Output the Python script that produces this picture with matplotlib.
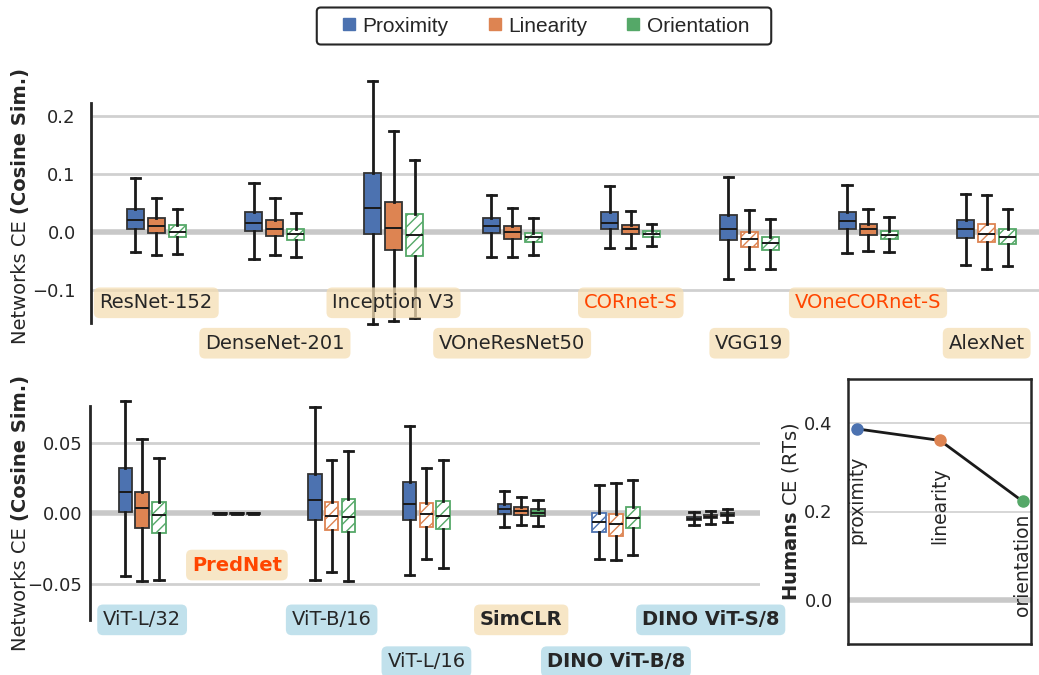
import matplotlib
matplotlib.use("Agg")
import matplotlib.pyplot as plt
from matplotlib.lines import Line2D
from matplotlib.patches import FancyBboxPatch
from matplotlib.transforms import IdentityTransform

# ---- data -------------------------------------------------------------
features = ["Proximity", "Linearity", "Orientation"]
feature_names = ["proximity", "linearity", "orientation"]
palette = ["#4C72B0", "#DD8452", "#55A868"]

top_nets = ["ResNet-152", "DenseNet-201", "Inception V3", "VOneResNet50",
            "CORnet-S", "VGG19", "VOneCORnet-S", "AlexNet"]
# (whislo, q1, median, q3, whishi) for proximity, linearity, orientation
top_stats = [
    [(-0.035, 0.005, 0.020, 0.040, 0.093), (-0.041, -0.003, 0.010, 0.023, 0.059), (-0.038, -0.009, 0.000, 0.011, 0.039)],
    [(-0.048, 0.002, 0.016, 0.035, 0.085), (-0.041, -0.007, 0.005, 0.020, 0.059), (-0.043, -0.014, -0.004, 0.005, 0.032)],
    [(-0.160, -0.004, 0.042, 0.102, 0.261), (-0.155, -0.032, 0.007, 0.052, 0.175), (-0.150, -0.042, -0.005, 0.031, 0.125)],
    [(-0.043, -0.003, 0.010, 0.024, 0.063), (-0.043, -0.012, -0.001, 0.010, 0.042), (-0.040, -0.017, -0.009, -0.002, 0.023)],
    [(-0.028, 0.004, 0.016, 0.034, 0.079), (-0.028, -0.004, 0.004, 0.012, 0.036), (-0.025, -0.009, -0.004, 0.001, 0.013)],
    [(-0.081, -0.015, 0.005, 0.029, 0.095), (-0.065, -0.027, -0.013, 0.000, 0.038), (-0.065, -0.031, -0.019, -0.009, 0.022)],
    [(-0.036, 0.004, 0.018, 0.035, 0.081), (-0.033, -0.005, 0.004, 0.013, 0.040), (-0.035, -0.013, -0.005, 0.002, 0.026)],
    [(-0.057, -0.010, 0.005, 0.021, 0.065), (-0.065, -0.018, -0.004, 0.014, 0.064), (-0.059, -0.021, -0.009, 0.004, 0.039)],
]
# 1 = significant (filled box), 0 = not significant (hatched box)
top_signif = [[1, 1, 0], [1, 1, 0], [1, 1, 0], [1, 1, 0],
              [1, 1, 0], [1, 0, 0], [1, 1, 0], [1, 0, 0]]

bottom_nets = ["ViT-L/32", "PredNet", "ViT-B/16", "ViT-L/16",
               "SimCLR", "DINO ViT-B/8", "DINO ViT-S/8"]
bottom_stats = [
    [(-0.0443, 0.0007, 0.0149, 0.0323, 0.0797), (-0.0476, -0.0101, 0.0035, 0.0151, 0.0528), (-0.0472, -0.0139, -0.0012, 0.0083, 0.0394)],
    [(-0.0006, -0.0003, 0.0000, 0.0003, 0.0006), (-0.0005, -0.0002, 0.0000, 0.0002, 0.0005), (-0.0005, -0.0002, 0.0000, 0.0002, 0.0005)],
    [(-0.0472, -0.0045, 0.0092, 0.0276, 0.0752), (-0.0415, -0.0120, -0.0017, 0.0083, 0.0375), (-0.0476, -0.0134, -0.0024, 0.0099, 0.0443)],
    [(-0.0434, -0.0045, 0.0064, 0.0224, 0.0620), (-0.0325, -0.0094, -0.0005, 0.0071, 0.0318), (-0.0389, -0.0111, -0.0017, 0.0087, 0.0380)],
    [(-0.0099, -0.0002, 0.0031, 0.0064, 0.0158), (-0.0083, -0.0009, 0.0017, 0.0042, 0.0113), (-0.0087, -0.0021, 0.0005, 0.0028, 0.0092)],
    [(-0.0321, -0.0134, -0.0064, 0.0002, 0.0200), (-0.0330, -0.0158, -0.0078, -0.0002, 0.0215), (-0.0292, -0.0106, -0.0031, 0.0042, 0.0238)],
    [(-0.0080, -0.0047, -0.0038, -0.0028, 0.0007), (-0.0075, -0.0033, -0.0024, -0.0014, 0.0017), (-0.0059, -0.0019, -0.0009, 0.0000, 0.0028)],
]
bottom_signif = [[1, 1, 0], [1, 1, 1], [1, 0, 0], [1, 0, 0],
                 [1, 1, 1], [0, 0, 0], [1, 1, 1]]

human_ce = [0.387, 0.361, 0.223]

# ---- label styling ----------------------------------------------------
WHEAT = "wheat"
BLUE = "lightblue"
TEXT_C = "#262626"
top_label_bg = [WHEAT] * 8
top_label_color = [TEXT_C, TEXT_C, TEXT_C, TEXT_C,
                   "orangered", TEXT_C, "orangered", TEXT_C]
top_label_y = [-0.123, -0.193] * 4

bottom_label_bg = [BLUE, WHEAT, BLUE, BLUE, WHEAT, BLUE, BLUE]
bottom_label_color = [TEXT_C, "orangered", TEXT_C, TEXT_C, TEXT_C, TEXT_C, TEXT_C]
bottom_label_weight = ["normal", "bold", "normal", "normal", "bold", "bold", "bold"]
bottom_label_y = [-0.0754, -0.0366, -0.0754, -0.105, -0.0754, -0.105, -0.0754]

plt.rcParams["font.family"] = "DejaVu Sans"
plt.rcParams["mathtext.fontset"] = "dejavusans"
plt.rcParams["hatch.linewidth"] = 1.0

W, H = 1039, 675
OFFSETS = [-0.177, 0.0, 0.177]
BOX_W = 0.143


def style_axis(ax, tickpad):
    for side in ("top", "right", "bottom"):
        ax.spines[side].set_visible(False)
    ax.spines["left"].set_linewidth(2)
    ax.spines["left"].set_color(TEXT_C)
    ax.set_xticks([])
    ax.tick_params(axis="y", length=0, pad=tickpad, labelsize=13,
                   labelcolor=TEXT_C)
    ax.yaxis.grid(True, color="#d0d0d0", lw=2)
    ax.set_axisbelow(True)
    ax.axhline(0, color="#c8c8c8", lw=4, zorder=0.8)


def draw_boxes(ax, stats, signif, capw):
    line = dict(color="#1a1a1a", lw=2, clip_on=False)
    for i, (group, sig) in enumerate(zip(stats, signif)):
        for j in range(3):
            lo, q1, med, q3, hi = group[j]
            d = dict(whislo=lo, q1=q1, med=med, q3=q3, whishi=hi, fliers=[])
            art = ax.bxp([d], positions=[i + OFFSETS[j]], widths=BOX_W,
                         capwidths=capw, patch_artist=True, showfliers=False,
                         manage_ticks=False, whiskerprops=line, capprops=line,
                         medianprops=dict(color="#1a1a1a", lw=1.4),
                         zorder=2)
            box = art["boxes"][0]
            box.set_linewidth(1.3)
            if sig[j]:
                box.set_facecolor(palette[j])
                box.set_edgecolor("#333333")
            else:
                box.set_facecolor("white")
                box.set_edgecolor(palette[j])
                box.set_hatch("///")


def put_labels(ax, names, ys, bgs, colors, weights):
    for i, name in enumerate(names):
        ax.text(i, ys[i], name, ha="center", va="center", fontsize=14,
                color=colors[i], fontweight=weights[i], clip_on=False,
                zorder=4,
                bbox=dict(boxstyle="round,pad=0.3", facecolor=bgs[i],
                          edgecolor="none", alpha=0.75))


def net_ylabel(fig, ax, x_px, y_start_px):
    # "Networks CE" regular + "(Cosine Sim.)" bold, reading bottom to top
    t1 = fig.text(x_px / W, 1 - y_start_px / H, "Networks CE", rotation=90,
                  rotation_mode="anchor", ha="left", va="center",
                  fontsize=14, color=TEXT_C)
    ax.annotate("(Cosine Sim.)", xy=(0.5, 1.0), xycoords=t1,
                xytext=(0, 4.5), textcoords="offset points",
                rotation=90, rotation_mode="anchor", ha="left",
                va="center", fontsize=14, fontweight="bold",
                color=TEXT_C, annotation_clip=False)


fig = plt.figure(figsize=(W / 100, H / 100), dpi=100)

# ---- top panel --------------------------------------------------------
ax1 = fig.add_axes([91 / W, 1 - 323 / H, (1046 - 91) / W, 220 / H])
style_axis(ax1, 11)
draw_boxes(ax1, top_stats, top_signif, 0.078)
ax1.set_xlim(-0.55, 7.5)
ax1.set_ylim(-0.158, 0.223)
ax1.set_yticks([-0.1, 0.0, 0.1, 0.2])
put_labels(ax1, top_nets, top_label_y, top_label_bg, top_label_color,
           ["normal"] * 8)

# ---- bottom panel -----------------------------------------------------
ax2 = fig.add_axes([90 / W, 1 - 620 / H, (760 - 90) / W, 214 / H])
style_axis(ax2, 5.5)
draw_boxes(ax2, bottom_stats, bottom_signif, 0.098)
ax2.set_xlim(-0.55, 6.52)
ax2.set_ylim(-0.0755, 0.076)
ax2.set_yticks([-0.05, 0.0, 0.05])
put_labels(ax2, bottom_nets, bottom_label_y, bottom_label_bg,
           bottom_label_color, bottom_label_weight)

net_ylabel(fig, ax1, 20, 344)
net_ylabel(fig, ax2, 20, 651)

# ---- humans inset -----------------------------------------------------
ax3 = fig.add_axes([848 / W, 1 - 644 / H, (1031 - 848) / W, 265 / H])
xs = list(range(len(human_ce)))
ax3.plot(xs, human_ce, color="#1a1a1a", lw=2, zorder=3)
for x, y, c in zip(xs, human_ce, palette):
    ax3.plot([x], [y], "o", color=c, ms=8, zorder=4, clip_on=False)
name_drop = [0.06, 0.06, 0.028]
for x, y, name, dy in zip(xs, human_ce, feature_names, name_drop):
    ax3.text(x, y - dy, name, rotation=90, ha="center", va="top",
             fontsize=13.5, color=TEXT_C)
ax3.set_xlim(-0.11, 2.1)
ax3.set_ylim(-0.1, 0.5)
ax3.set_xticks([])
ax3.set_yticks([0.0, 0.2, 0.4])
ax3.tick_params(axis="y", length=0, pad=11, labelsize=13, labelcolor=TEXT_C)
ax3.yaxis.grid(True, color="#d0d0d0", lw=1.2)
ax3.set_axisbelow(True)
ax3.axhline(0, color="#c8c8c8", lw=4, zorder=0.8)
for sp in ax3.spines.values():
    sp.set_linewidth(1.8)
    sp.set_color(TEXT_C)
ax3.set_ylabel(r"$\mathbf{Humans}$ CE (RTs)", fontsize=14, color=TEXT_C,
               labelpad=2)

# ---- legend -----------------------------------------------------------
handles = [Line2D([], [], ls="none", marker="s", ms=9, color=c) for c in palette]
leg = fig.legend(handles, features, loc="center",
                 bbox_to_anchor=(544 / W, 1 - 26 / H), ncol=3,
                 prop=dict(family="Liberation Sans", size=15),
                 handlelength=1.0, handletextpad=0.15, columnspacing=1.7,
                 borderpad=0.0, frameon=False)
for t in leg.get_texts():
    t.set_color(TEXT_C)

# frame drawn by hand: wider side padding than top/bottom
fig.canvas.draw()
bb = leg.get_window_extent()
padx, pady = 22, 9
frame = FancyBboxPatch((bb.x0 - padx, bb.y0 - pady),
                       bb.width + 2 * padx, bb.height + 2 * pady,
                       boxstyle="round,pad=0,rounding_size=4",
                       transform=IdentityTransform(), fill=False,
                       edgecolor=TEXT_C, lw=1.5)
fig.patches.append(frame)

fig.savefig("out.png", dpi=100)
